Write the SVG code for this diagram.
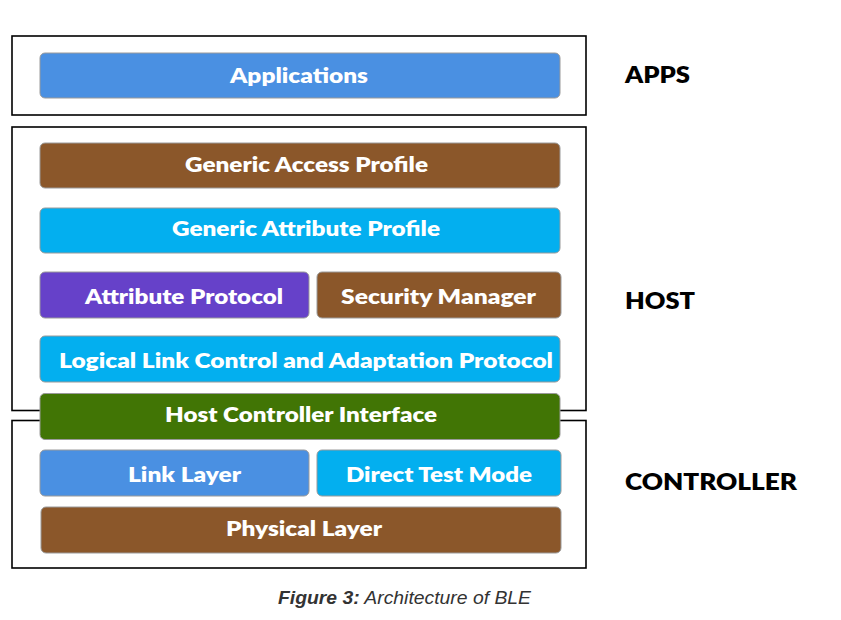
<svg xmlns="http://www.w3.org/2000/svg" width="841" height="620" viewBox="0 0 841 620">
<style>
.frame{fill:none;stroke:#000;stroke-width:1.6}
.bar{stroke:#9a9a9a;stroke-width:1}
.lbl{font-family:Lato,"Open Sans","Liberation Sans",sans-serif;font-weight:800;font-size:21.5px;fill:#fff;text-anchor:middle}
.side{font-family:Lato,"Liberation Sans",sans-serif;font-weight:800;font-size:23px;fill:#000}
.cap{font-family:"Liberation Sans",Arial,sans-serif;font-style:italic;font-size:19px;fill:#333;text-anchor:middle}
.blue{fill:#4a90e2}.brown{fill:#8b572a}.cyan{fill:#03afef}.purple{fill:#6641c9}.green{fill:#417505}
</style>
<rect width="841" height="620" fill="#fff"/>
<g id="frames">
<rect id="apps-frame" class="frame" x="12" y="36" width="574" height="79"/>
<rect id="host-frame" class="frame" x="12" y="127" width="574" height="283.5"/>
<rect id="controller-frame" class="frame" x="12" y="420.5" width="574" height="147.5"/>
</g>
<g id="applications"><rect class="bar blue" x="40" y="53" width="520" height="45" rx="5"/><text class="lbl" x="299" y="83" textLength="138" lengthAdjust="spacingAndGlyphs">Applications</text></g>
<g id="gap"><rect class="bar brown" x="40" y="143" width="520" height="45" rx="5"/><text class="lbl" x="306.5" y="172" textLength="243" lengthAdjust="spacingAndGlyphs">Generic Access Profile</text></g>
<g id="gatt"><rect class="bar cyan" x="40" y="208" width="520" height="45" rx="5"/><text class="lbl" x="306" y="236" textLength="268" lengthAdjust="spacingAndGlyphs">Generic Attribute Profile</text></g>
<g id="att"><rect class="bar purple" x="40" y="272" width="269" height="46" rx="5"/><text class="lbl" x="184" y="304" textLength="198" lengthAdjust="spacingAndGlyphs">Attribute Protocol</text></g>
<g id="sm"><rect class="bar brown" x="317" y="272" width="244" height="46" rx="5"/><text class="lbl" x="438.5" y="304" textLength="195" lengthAdjust="spacingAndGlyphs">Security Manager</text></g>
<g id="l2cap"><rect class="bar cyan" x="40" y="336" width="520" height="46" rx="5"/><text class="lbl" x="306" y="368" textLength="494" lengthAdjust="spacingAndGlyphs">Logical Link Control and Adaptation Protocol</text></g>
<g id="hci"><rect class="bar green" x="40" y="393.5" width="520" height="46" rx="5"/><text class="lbl" x="301" y="422" textLength="272" lengthAdjust="spacingAndGlyphs">Host Controller Interface</text></g>
<g id="ll"><rect class="bar blue" x="40" y="450" width="269" height="46" rx="5"/><text class="lbl" x="184.5" y="482" textLength="113" lengthAdjust="spacingAndGlyphs">Link Layer</text></g>
<g id="dtm"><rect class="bar cyan" x="317" y="450" width="244" height="46" rx="5"/><text class="lbl" x="439" y="482" textLength="186" lengthAdjust="spacingAndGlyphs">Direct Test Mode</text></g>
<g id="phy"><rect class="bar brown" x="41" y="507" width="520" height="46" rx="5"/><text class="lbl" x="304" y="536" textLength="156" lengthAdjust="spacingAndGlyphs">Physical Layer</text></g>
<g id="labels">
<text class="side" x="625" y="83" textLength="65" lengthAdjust="spacingAndGlyphs">APPS</text>
<text class="side" x="625" y="309" textLength="70" lengthAdjust="spacingAndGlyphs">HOST</text>
<text class="side" x="625" y="490" textLength="172" lengthAdjust="spacingAndGlyphs">CONTROLLER</text>
</g>
<g id="connectors"/>
<text class="cap" x="404.5" y="603.5" textLength="253" lengthAdjust="spacingAndGlyphs"><tspan font-weight="700">Figure 3:</tspan> Architecture of BLE</text>
</svg>
